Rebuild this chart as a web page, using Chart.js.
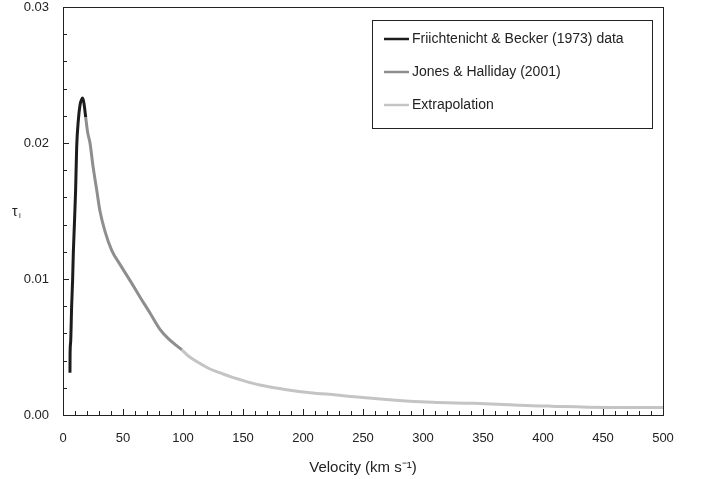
<!DOCTYPE html>
<html>
<head>
<meta charset="utf-8">
<script src="https://cdn.jsdelivr.net/npm/chart.js@4"></script>
<style>
  html, body { margin: 0; padding: 0; background: #fff; }
  #wrap { width: 702px; height: 479px; }
</style>
</head>
<body>
<div id="wrap"><canvas id="chart"></canvas></div>
<script>
// velocity (km/s) and tau values
const fbVel = [5.8, 5.9, 6.4, 7.2, 8, 8.6, 9.4, 10.5, 11.4, 12.8, 14.2, 15.5, 16.4, 17.5, 18.9];
const fbTau = [0.0031, 0.0045, 0.0054, 0.0080, 0.0099, 0.0119, 0.0138, 0.0165, 0.0197, 0.0217, 0.0228, 0.0232, 0.0233, 0.0229, 0.0219];

const jhVel = [18.9, 20.5, 22.5, 25, 28, 30.8, 35, 40.6, 48, 55.8, 64, 72.5, 80.8, 88, 94.7, 99];
const jhTau = [0.0219, 0.0208, 0.0200, 0.0183, 0.0166, 0.0150, 0.0135, 0.0121, 0.0110, 0.0099, 0.0087, 0.0075, 0.0063, 0.0056, 0.0051, 0.0048];

const exVel = [99, 105, 114, 122, 131, 140, 147.5, 164, 183.6, 206, 228, 247.5, 267, 286, 308, 342, 372, 381, 407, 453, 500];
const exTau = [0.0048, 0.0043, 0.0038, 0.0034, 0.0031, 0.0028, 0.0026, 0.0022, 0.0019, 0.00164, 0.00147, 0.0013, 0.00115, 0.00103, 0.00093, 0.00086, 0.00076, 0.00072, 0.00065, 0.00056, 0.00055];

const seriesNames = ["Friichtenicht & Becker (1973) data", "Jones & Halliday (2001)", "Extrapolation"];
const seriesColors = ["#1c1c1c", "#8e8e8e", "#c4c4c4"];

const xTicks = [0, 50, 100, 150, 200, 250, 300, 350, 400, 450, 500];
const yTicks = [0, 0.01, 0.02, 0.03];

function toPoints(xs, ys) {
    return xs.map((x, i) => ({ x: x, y: ys[i] }));
}

const FONT = "'Liberation Sans', Arial, sans-serif";

// frame, inward minor ticks, y title and legend box
const decorPlugin = {
    id: "decor",
    afterDraw(chart) {
        const ctx = chart.ctx;
        const a = chart.chartArea;
        const xs = chart.scales.x, ys = chart.scales.y;
        ctx.save();
        ctx.strokeStyle = "#222";
        ctx.lineWidth = 1;
        ctx.strokeRect(a.left + 0.5, a.top + 0.5, a.right - a.left, a.bottom - a.top);

        ctx.beginPath();
        for (let v = 10; v < 500; v += 10) {
            const px = Math.round(xs.getPixelForValue(v)) + 0.5;
            const len = v % 50 === 0 ? 6 : 4;
            ctx.moveTo(px, a.bottom);
            ctx.lineTo(px, a.bottom - len);
        }
        for (let k = 1; k < 15; k++) {
            const v = k * 0.002;
            const py = Math.round(ys.getPixelForValue(v)) + 0.5;
            const len = k % 5 === 0 ? 6 : 4;
            ctx.moveTo(a.left, py);
            ctx.lineTo(a.left + len, py);
        }
        ctx.stroke();

        // y title
        ctx.fillStyle = "#222";
        ctx.font = "14px " + FONT;
        ctx.textBaseline = "alphabetic";
        ctx.fillText("\u03c4", 12, 216);
        ctx.font = "8px " + FONT;
        ctx.fillText("i", 19, 218);

        // legend
        const lx = 372, ly = 20, lw = 280, lh = 108;
        ctx.fillStyle = "#fff";
        ctx.fillRect(lx, ly, lw, lh);
        ctx.strokeStyle = "#222";
        ctx.strokeRect(lx + 0.5, ly + 0.5, lw, lh);
        ctx.font = "14px " + FONT;
        ctx.textBaseline = "middle";
        seriesNames.forEach((name, i) => {
            const y = ly + 19 + i * 33;
            ctx.strokeStyle = seriesColors[i];
            ctx.lineWidth = 2.5;
            ctx.beginPath();
            ctx.moveTo(384, y);
            ctx.lineTo(409, y);
            ctx.stroke();
            ctx.fillStyle = "#222";
            ctx.fillText(name, 412, y);
        });
        ctx.restore();
    }
};

const datasets = [
    toPoints(fbVel, fbTau),
    toPoints(jhVel, jhTau),
    toPoints(exVel, exTau)
].map((pts, i) => ({
    label: seriesNames[i],
    data: pts,
    borderColor: seriesColors[i],
    borderWidth: 3,
    pointRadius: 0,
    cubicInterpolationMode: "monotone",
    fill: false
}));

new Chart(document.getElementById("chart"), {
    type: "line",
    data: { datasets: datasets },
    options: {
        responsive: true,
        maintainAspectRatio: false,
        animation: false,
        layout: { padding: { top: 7, right: 39, bottom: 0, left: 0 } },
        plugins: {
            legend: { display: false },
            tooltip: { enabled: false }
        },
        scales: {
            x: {
                type: "linear",
                min: 0,
                max: 500,
                afterBuildTicks: (s) => { s.ticks = xTicks.map(v => ({ value: v })); },
                afterFit: (s) => { s.height = 64; },
                grid: { display: false },
                border: { color: "#222" },
                ticks: { color: "#222", font: { family: FONT, size: 13 }, padding: 8, maxRotation: 0 },
                title: {
                    display: true,
                    text: "Velocity (km s\u207b\u00b9)",
                    color: "#222",
                    font: { family: FONT, size: 15 },
                    padding: { top: 0, bottom: 2 }
                }
            },
            y: {
                min: 0,
                max: 0.03,
                afterBuildTicks: (s) => { s.ticks = yTicks.map(v => ({ value: v })); },
                afterFit: (s) => { s.width = 63; s.paddingTop = 0; s.paddingBottom = 0; },
                grid: { display: false },
                border: { color: "#222" },
                ticks: {
                    color: "#222",
                    font: { family: FONT, size: 13 },
                    padding: 6,
                    callback: (v) => Number(v).toFixed(2)
                }
            }
        }
    },
    plugins: [decorPlugin]
});
</script>
</body>
</html>
